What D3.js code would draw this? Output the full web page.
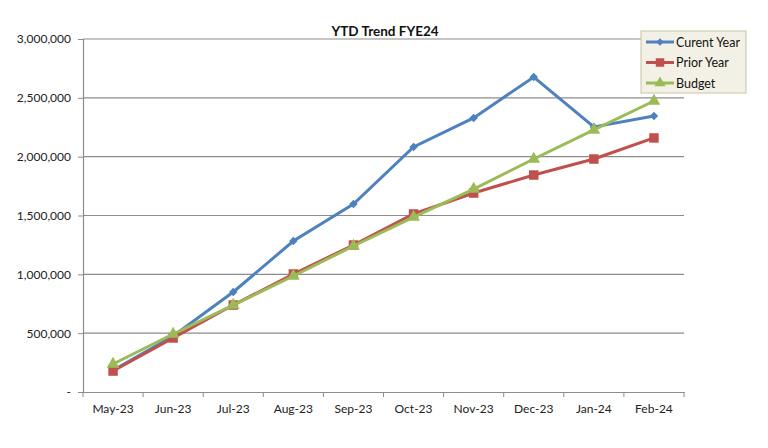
<!DOCTYPE html>
<html>
<head>
<meta charset="utf-8">
<script src="https://cdn.jsdelivr.net/npm/d3@7"></script>
<style>
  body { margin: 0; background: #fff; }
  text { font-family: Lato, "Open Sans", sans-serif; }
</style>
</head>
<body>
<div id="chart"></div>
<script>
// data
var months = ["May-23", "Jun-23", "Jul-23", "Aug-23", "Sep-23", "Oct-23", "Nov-23", "Dec-23", "Jan-24", "Feb-24"];
var currentYear = [185000, 476000, 850000, 1283000, 1598000, 2082000, 2329000, 2677000, 2252000, 2346000];
var priorYear = [178000, 459000, 739000, 1003000, 1249000, 1513000, 1691000, 1844000, 1980000, 2159000];
var budget = [238000, 493000, 739000, 986000, 1241000, 1487000, 1725000, 1980000, 2227000, 2473000];
var yTicks = [0, 500000, 1000000, 1500000, 2000000, 2500000, 3000000];

// rotate = 45 turns a square into an even diamond
var series = [
  { name: "Curent Year", values: currentYear, color: "#4F81BD", symbol: d3.symbolSquare, size: 36, rotate: 45 },
  { name: "Prior Year", values: priorYear, color: "#C0504D", symbol: d3.symbolSquare, size: 90, rotate: 0 },
  { name: "Budget", values: budget, color: "#9BBB59", symbol: d3.symbolTriangle, size: 70, rotate: 0 }
];

var width = 768, height = 448;
// plot area edges (note: "top" is a reserved window prop)
var plotLeft = 83, plotRight = 684, plotTop = 39, plotBottom = 392;

var svg = d3.select("#chart").append("svg")
  .attr("width", width)
  .attr("height", height);

var x = d3.scaleBand().domain(months).range([plotLeft, plotRight]);
var y = d3.scaleLinear().domain([0, 3000000]).range([plotBottom, plotTop]);

// gridlines
svg.append("g").selectAll("line")
  .data(yTicks.slice(1))
  .enter().append("line")
  .attr("x1", plotLeft).attr("x2", plotRight)
  .attr("y1", function(d) { return y(d); })
  .attr("y2", function(d) { return y(d); })
  .attr("stroke", "#8c8c8c")
  .attr("stroke-width", 1.2);

// y axis
var yAxis = d3.axisLeft(y)
  .tickValues(yTicks)
  .tickSize(5)
  .tickPadding(7)
  .tickFormat(function(d) { return d === 0 ? "-" : d3.format(",")(d); });

var gy = svg.append("g")
  .attr("transform", "translate(" + plotLeft + ",0)")
  .call(yAxis);
gy.select(".domain").attr("stroke", "#8c8c8c").attr("stroke-width", 1.2);
gy.selectAll(".tick line").attr("stroke", "#8c8c8c");
gy.selectAll("text").attr("font-size", 12).attr("fill", "#222");

// x axis, ticks between categories
var xAxis = d3.axisBottom(x).tickSize(0).tickPadding(12);
var gx = svg.append("g")
  .attr("transform", "translate(0," + plotBottom + ")")
  .call(xAxis);
gx.select(".domain").attr("stroke", "#8c8c8c").attr("stroke-width", 1.2);
gx.selectAll("text").attr("font-size", 12).attr("fill", "#222");
gx.selectAll(".sep")
  .data(months.concat(["end"]))
  .enter().append("line")
  .attr("class", "sep")
  .attr("x1", function(d, i) { return plotLeft + i * x.step(); })
  .attr("x2", function(d, i) { return plotLeft + i * x.step(); })
  .attr("y1", 0).attr("y2", 5)
  .attr("stroke", "#8c8c8c");

// lines
var line = d3.line()
  .x(function(d, i) { return x(months[i]) + x.bandwidth() / 2; })
  .y(function(d) { return y(d); });

series.forEach(function(s) {
  var g = svg.append("g");
  g.append("path")
    .attr("d", line(s.values))
    .attr("fill", "none")
    .attr("stroke", s.color)
    .attr("stroke-width", 3);
  g.selectAll("path.m")
    .data(s.values)
    .enter().append("path")
    .attr("class", "m")
    .attr("transform", function(d, i) {
      return "translate(" + (x(months[i]) + x.bandwidth() / 2) + "," + y(d) + ")rotate(" + s.rotate + ")";
    })
    .attr("d", d3.symbol().type(s.symbol).size(s.size))
    .attr("fill", s.color);
});

// title
svg.append("text")
  .attr("x", 385).attr("y", 36)
  .attr("text-anchor", "middle")
  .attr("font-size", 13.5)
  .attr("font-weight", "bold")
  .attr("fill", "#111")
  .text("YTD Trend FYE24");

// legend
var lg = svg.append("g").attr("transform", "translate(641,31)");
lg.append("rect")
  .attr("width", 105).attr("height", 62)
  .attr("fill", "#f3f1e6")
  .attr("stroke", "#c9c3a6");
series.forEach(function(s, i) {
  var row = lg.append("g").attr("transform", "translate(0," + (11 + i * 20.5) + ")");
  row.append("line")
    .attr("x1", 5).attr("x2", 33)
    .attr("stroke", s.color).attr("stroke-width", 3);
  row.append("path")
    .attr("transform", "translate(19,0)rotate(" + s.rotate + ")")
    .attr("d", d3.symbol().type(s.symbol).size(s.size * 0.8))
    .attr("fill", s.color);
  row.append("text")
    .attr("x", 35).attr("y", 4.5)
    .attr("font-size", 12.5)
    .attr("fill", "#111")
    .text(s.name);
});
</script>
</body>
</html>
